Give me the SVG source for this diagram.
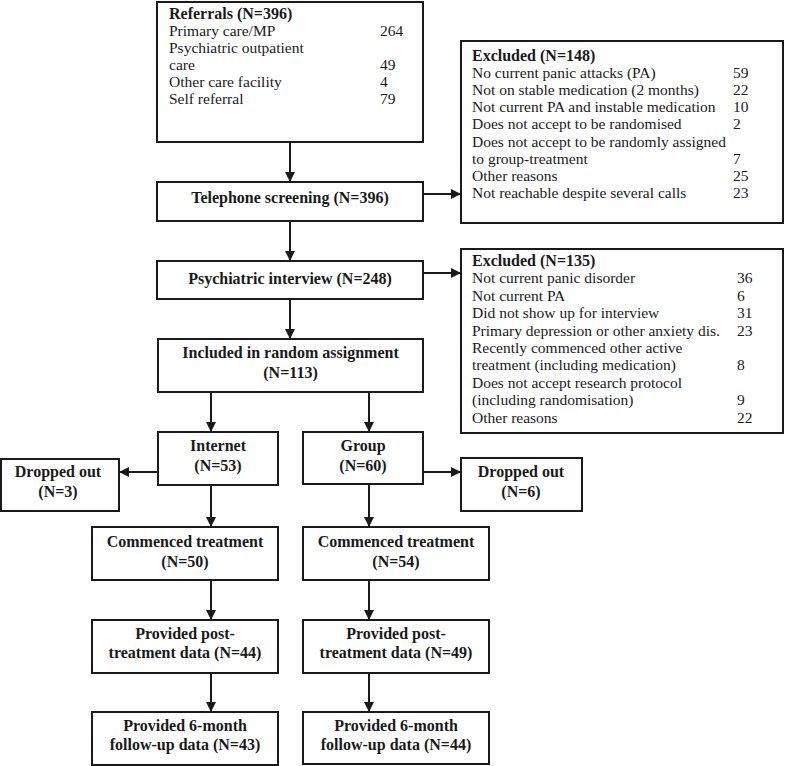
<svg xmlns="http://www.w3.org/2000/svg" width="785" height="766" viewBox="0 0 785 766">
<style>
.box{fill:#fff;stroke:#1a1a1a;stroke-width:2}
.t{font-family:"Liberation Serif","Times New Roman",serif;font-size:15.5px;fill:#1a1a1a}
.b{font-family:"Liberation Serif","Times New Roman",serif;font-size:16px;font-weight:bold;fill:#1a1a1a}
.c{text-anchor:middle}
.ln{stroke:#1a1a1a;stroke-width:2;fill:none;marker-end:url(#ah)}
</style>
<defs>
<marker id="ah" viewBox="0 0 10 10" refX="10" refY="5" markerWidth="10" markerHeight="10" markerUnits="userSpaceOnUse" orient="auto">
<path d="M0,0 L10,5 L0,10 z" fill="#1a1a1a"/>
</marker>
</defs>
<rect width="785" height="766" fill="#fff"/>
<g id="connectors">
<line class="ln" x1="290" y1="142" x2="290" y2="182"/>
<line class="ln" x1="423" y1="194" x2="461" y2="194"/>
<line class="ln" x1="290" y1="221" x2="290" y2="261"/>
<line class="ln" x1="423" y1="273" x2="461" y2="273"/>
<line class="ln" x1="290" y1="299" x2="290" y2="339"/>
<line class="ln" x1="211" y1="392" x2="211" y2="432"/>
<line class="ln" x1="369" y1="392" x2="369" y2="432"/>
<line class="ln" x1="158" y1="472" x2="119" y2="472"/>
<line class="ln" x1="423" y1="472" x2="461" y2="472"/>
<line class="ln" x1="211" y1="485" x2="211" y2="527"/>
<line class="ln" x1="369" y1="484" x2="369" y2="527"/>
<line class="ln" x1="211" y1="580" x2="211" y2="620"/>
<line class="ln" x1="369" y1="580" x2="369" y2="620"/>
<line class="ln" x1="211" y1="673" x2="211" y2="712"/>
<line class="ln" x1="369" y1="673" x2="369" y2="712"/>
</g>
<g id="referrals">
<rect class="box" x="157" y="2" width="266" height="140"/>
<text class="b" x="169" y="19">Referrals (N=396)</text>
<text class="t" x="169" y="36">Primary care/MP</text><text class="t" x="380" y="36">264</text>
<text class="t" x="169" y="53">Psychiatric outpatient</text>
<text class="t" x="169" y="70">care</text><text class="t" x="380" y="70">49</text>
<text class="t" x="169" y="87">Other care facility</text><text class="t" x="380" y="87">4</text>
<text class="t" x="169" y="104">Self referral</text><text class="t" x="380" y="104">79</text>
</g>
<g id="telephone">
<rect class="box" x="157" y="182" width="266" height="39"/>
<text class="b c" x="290" y="203">Telephone screening (N=396)</text>
</g>
<g id="excluded1">
<rect class="box" x="461" y="41" width="322" height="182"/>
<text class="b" x="472" y="61">Excluded (N=148)</text>
<text class="t" x="472" y="78">No current panic attacks (PA)</text><text class="t" x="733" y="78">59</text>
<text class="t" x="472" y="95">Not on stable medication (2 months)</text><text class="t" x="733" y="95">22</text>
<text class="t" x="472" y="112">Not current PA and instable medication</text><text class="t" x="733" y="112">10</text>
<text class="t" x="472" y="129">Does not accept to be randomised</text><text class="t" x="733" y="129">2</text>
<text class="t" x="472" y="147">Does not accept to be randomly assigned</text>
<text class="t" x="472" y="164">to group-treatment</text><text class="t" x="733" y="164">7</text>
<text class="t" x="472" y="181">Other reasons</text><text class="t" x="733" y="181">25</text>
<text class="t" x="472" y="198">Not reachable despite several calls</text><text class="t" x="733" y="198">23</text>
</g>
<g id="psychiatric">
<rect class="box" x="157" y="261" width="266" height="38"/>
<text class="b c" x="290" y="284">Psychiatric interview (N=248)</text>
</g>
<g id="excluded2">
<rect class="box" x="461" y="249" width="322" height="184"/>
<text class="b" x="472" y="266">Excluded (N=135)</text>
<text class="t" x="472" y="283">Not current panic disorder</text><text class="t" x="737" y="283">36</text>
<text class="t" x="472" y="301">Not current PA</text><text class="t" x="737" y="301">6</text>
<text class="t" x="472" y="318">Did not show up for interview</text><text class="t" x="737" y="318">31</text>
<text class="t" x="472" y="336">Primary depression or other anxiety dis.</text><text class="t" x="737" y="336">23</text>
<text class="t" x="472" y="353">Recently commenced other active</text>
<text class="t" x="472" y="370">treatment (including medication)</text><text class="t" x="737" y="370">8</text>
<text class="t" x="472" y="388">Does not accept research protocol</text>
<text class="t" x="472" y="405">(including randomisation)</text><text class="t" x="737" y="405">9</text>
<text class="t" x="472" y="423">Other reasons</text><text class="t" x="737" y="423">22</text>
</g>
<g id="included">
<rect class="box" x="158" y="339" width="265" height="53"/>
<text class="b c" x="290.5" y="358">Included in random assignment</text>
<text class="b c" x="290.5" y="378">(N=113)</text>
</g>
<g id="internet">
<rect class="box" x="158" y="432" width="120" height="53"/>
<text class="b c" x="218" y="451">Internet</text>
<text class="b c" x="218" y="471">(N=53)</text>
</g>
<g id="group">
<rect class="box" x="303" y="432" width="120" height="52"/>
<text class="b c" x="363" y="451">Group</text>
<text class="b c" x="363" y="471">(N=60)</text>
</g>
<g id="dropped1">
<rect class="box" x="1" y="459" width="118" height="52"/>
<text class="b c" x="58" y="477">Dropped out</text>
<text class="b c" x="58" y="497">(N=3)</text>
</g>
<g id="dropped2">
<rect class="box" x="461" y="458" width="121" height="53"/>
<text class="b c" x="521" y="477">Dropped out</text>
<text class="b c" x="521" y="497">(N=6)</text>
</g>
<g id="commenced1">
<rect class="box" x="92" y="527" width="186" height="53"/>
<text class="b c" x="185" y="547">Commenced treatment</text>
<text class="b c" x="185" y="567">(N=50)</text>
</g>
<g id="commenced2">
<rect class="box" x="303" y="527" width="186" height="53"/>
<text class="b c" x="396" y="547">Commenced treatment</text>
<text class="b c" x="396" y="567">(N=54)</text>
</g>
<g id="post1">
<rect class="box" x="92" y="620" width="186" height="53"/>
<text class="b c" x="185" y="639">Provided post-</text>
<text class="b c" x="185" y="658">treatment data (N=44)</text>
</g>
<g id="post2">
<rect class="box" x="303" y="620" width="186" height="53"/>
<text class="b c" x="396" y="639">Provided post-</text>
<text class="b c" x="396" y="658">treatment data (N=49)</text>
</g>
<g id="followup1">
<rect class="box" x="92" y="712" width="186" height="53"/>
<text class="b c" x="185" y="731">Provided 6-month</text>
<text class="b c" x="185" y="750">follow-up data (N=43)</text>
</g>
<g id="followup2">
<rect class="box" x="303" y="712" width="186" height="52"/>
<text class="b c" x="396" y="731">Provided 6-month</text>
<text class="b c" x="396" y="750">follow-up data (N=44)</text>
</g>
</svg>
